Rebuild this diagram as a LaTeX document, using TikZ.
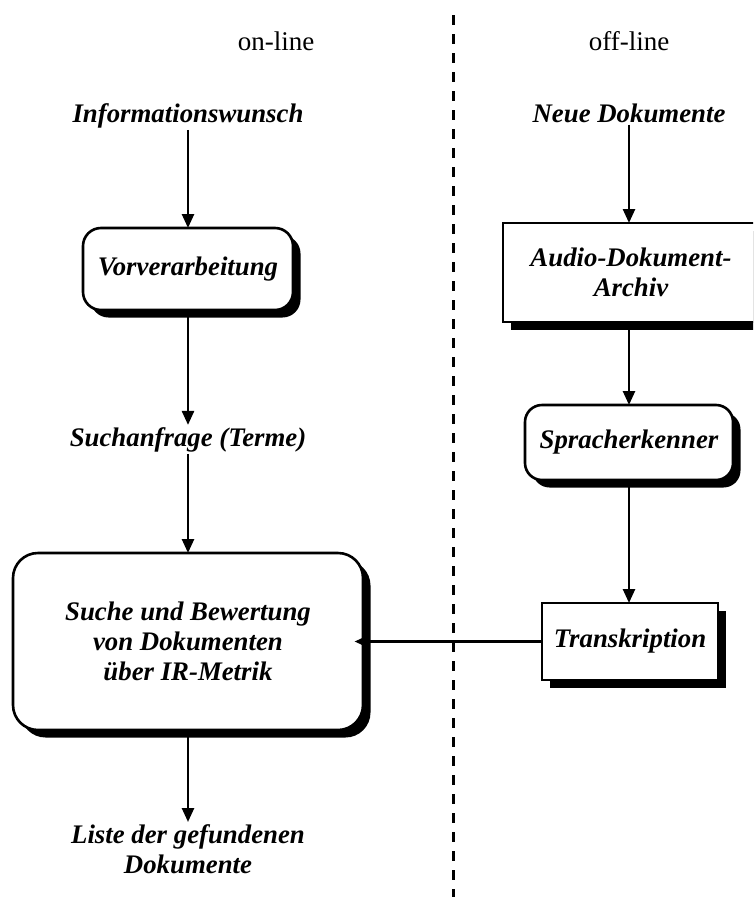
\documentclass[tikz,border=0pt]{standalone}
\usepackage{fontspec}
\setmainfont{Liberation Serif}
\usetikzlibrary{shadows,arrows.meta}
\begin{document}
\begin{tikzpicture}[x=1pt,y=-1pt,
  lbl/.style={font=\fontsize{26.8}{30}\selectfont\bfseries\itshape, inner sep=2pt, align=center},
  hdr/.style={font=\fontsize{27}{30}\selectfont, inner sep=0pt},
  box/.style={draw, line width=2.6pt, fill=white, font=\fontsize{26.8}{30}\selectfont\bfseries\itshape,
    align=center, inner sep=0pt, outer sep=0pt,
    drop shadow={shadow xshift=7.5pt, shadow yshift=-7.5pt, opacity=1, fill=black}},
  arr/.style={line width=2.5pt, -{Triangle[length=14pt,width=12pt]}},
  divider/.style={line width=3pt, dash pattern=on 10pt off 9pt}]
\useasboundingbox (0,0) rectangle (753,897);
\clip (0,0) rectangle (753,897);
% divider
\coordinate (dtop) at (453,15);
\coordinate (dbot) at (453,897);
\draw[divider] (dtop) -- (dbot);
% headers
\node[hdr, anchor=base] (online) at (276,50) {on-line};
\node[hdr, anchor=base] (offline) at (629,50) {off-line};
% left column
\node[lbl, anchor=base] (info) at (188,122) {Informationswunsch};
\node[box, rounded corners=18pt, minimum width=210pt, minimum height=82pt] (vor) at (188,269) {Vorverarbeitung};
\node[lbl, anchor=base] (such) at (188,446) {Suchanfrage (Terme)};
\node[box, rounded corners=25pt, minimum width=350pt, minimum height=177pt] (big) at (188,641.5)
  {Suche und Bewertung\\von Dokumenten\\über IR-Metrik};
\node[lbl, anchor=north] (liste) at (188,822) {Liste der gefundenen\\Dokumente};
% right column
\node[lbl, anchor=base] (neue) at (629,122) {Neue Dokumente};
\node[box, minimum width=256pt, minimum height=99pt] (audio) at (631,272.5) {Audio-Dokument-\\Archiv};
\node[box, rounded corners=17pt, minimum width=208pt, minimum height=75pt] (sprach) at (629,442.5) {Spracherkenner};
\node[box, minimum width=176pt, minimum height=77pt] (trans) at (630,641.5) {Transkription};
% arrows
\draw[arr] (info.south) -- (vor.north);
\draw[arr] (vor.south) -- (such.north);
\draw[arr] (such.south) -- (big.north);
\draw[arr] (big.south) -- (liste.north);
\draw[arr] (neue.south) -- (neue.south |- audio.north);
\draw[arr] (audio.south -| sprach.north) -- (sprach.north);
\draw[arr] (sprach.south) -- (sprach.south |- trans.north);
\draw[arr, shorten >=-8.5pt] (trans.west) -- (trans.west -| big.east);
\end{tikzpicture}
\end{document}
